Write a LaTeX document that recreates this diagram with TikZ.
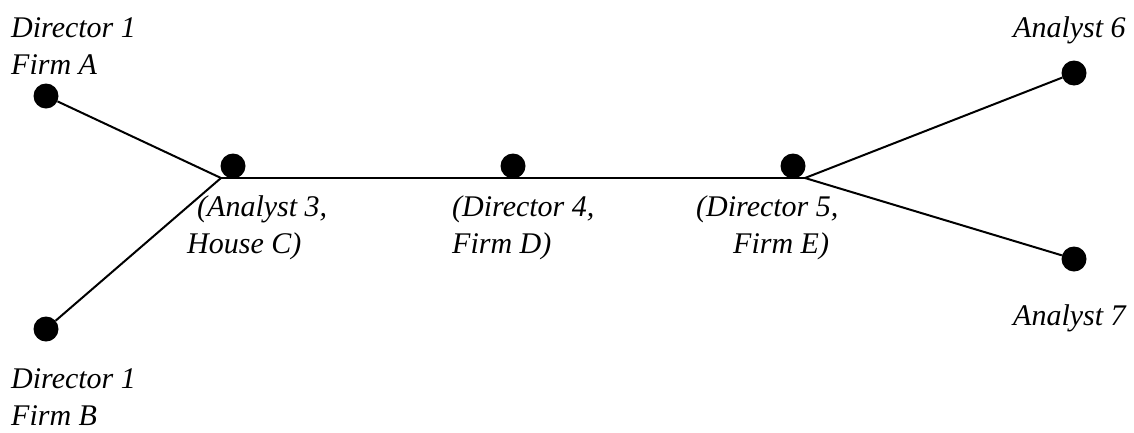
\documentclass[tikz,border=0pt]{standalone}
\usepackage{fontspec}
\setmainfont{Liberation Serif}
\begin{document}
\begin{tikzpicture}[x=1pt,y=-1pt,
  dot/.style={circle,fill=black,inner sep=0pt,minimum size=25pt},
  tie/.style={line width=2pt},
  lbl/.style={anchor=base west,inner sep=0pt,align=left,
    font=\fontsize{30}{37}\selectfont\itshape}]
\useasboundingbox (0,0) rectangle (1134,432);
% actors
\node[dot] (a1) at (46,96) {};
\node[dot] (b1) at (46,329) {};
\node[dot] (c3) at (233,166) {};
\node[dot] (d4) at (513,166) {};
\node[dot] (e5) at (793,166) {};
\node[dot] (a6) at (1074,73) {};
\node[dot] (a7) at (1074,259) {};
% junctions of the ties
\coordinate (jl) at (221,178);
\coordinate (jr) at (805,178);
% ties
\draw[tie] (a1) -- (jl);
\draw[tie] (b1) -- (jl);
\draw[tie] (jl) -- (jr);
\draw[tie] (jr) -- (a6);
\draw[tie] (jr) -- (a7);
% labels (a multi-line node sits on the baseline of its last line)
\node[lbl] (la1) at (11,74) {Director 1\\Firm A};
\node[lbl] (lb1) at (11,425) {Director 1\\Firm B};
\node[lbl] (lc3) at (187,253) {\hspace*{10pt}(Analyst 3,\\House C)};
\node[lbl] (ld4) at (452,253) {(Director 4,\\Firm D)};
\node[lbl] (le5) at (696,253) {(Director 5,\\\hspace*{37pt}Firm E)};
\node[lbl] (la6) at (1013,37) {Analyst 6};
\node[lbl] (la7) at (1013,325) {Analyst 7};
\end{tikzpicture}
\end{document}
